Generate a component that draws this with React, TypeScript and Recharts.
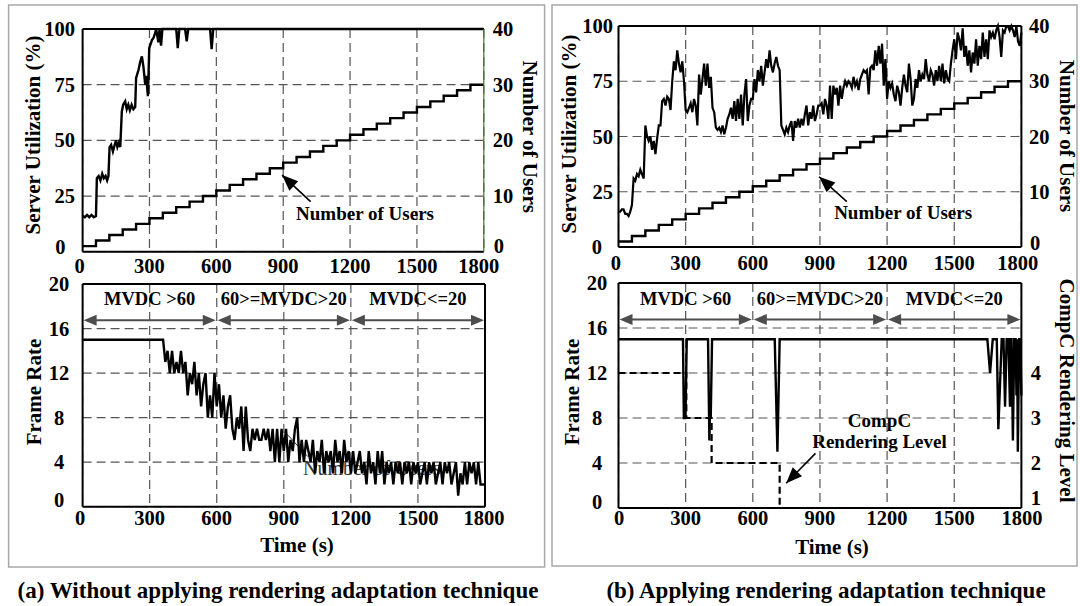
import React from "react";
import {
  LineChart,
  Line,
  XAxis,
  YAxis,
  CartesianGrid,
  ReferenceLine,
} from "recharts";

const SERIF = '"Liberation Serif", "Times New Roman", Times, serif';
const GRID = "#555555";
const ARROW_GRAY = "#4d4d4d";

// axis ticks
const timeTicks = [0, 300, 600, 900, 1200, 1500, 1800];
const utilTicks = [0, 25, 50, 75, 100];
const userTicks = [0, 10, 20, 30, 40];
const frameTicks = [0, 4, 8, 12, 16, 20];
const levelTicks = [1, 2, 3, 4];

// number of users (same in both runs)
const userTimes = [
  0, 60, 120, 180, 240, 300, 360, 420, 480, 540, 600, 660, 720, 780, 840, 900,
  960, 1020, 1080, 1140, 1200, 1260, 1320, 1380, 1440, 1500, 1560, 1620, 1680,
  1740, 1800,
];
const userCounts = [
  1, 2, 3, 4, 5, 6, 7, 8, 9, 10, 11, 12, 13, 14, 15, 16, 17, 18, 19, 20, 21, 22,
  23, 24, 25, 26, 27, 28, 29, 30, 30,
];

// (a) server utilization, saturates at 100 after ~330 s
const utilATimes = [
  0, 10, 20, 30, 40, 50, 60, 64, 72, 80, 88, 95, 103, 110, 116, 121, 128, 136,
  144, 150, 156, 163, 169, 176, 182, 191, 198, 205, 212, 220, 228, 236, 240, 251,
  258, 266, 273, 281, 285, 293, 299, 311, 318, 325, 330, 340, 345, 352, 358, 420,
  427, 434, 460, 467, 474, 572, 579, 586, 1800,
];
const utilAValues = [
  16, 15.5, 16.5, 15.5, 16.5, 15.5, 16, 33, 34, 32, 35, 33, 34, 32, 34, 47, 48,
  45, 48, 50, 47, 49, 47, 63, 66, 67.5, 64, 66, 63.5, 66, 64, 65, 78, 81.7, 85,
  87.7, 83, 75, 79, 69.8, 91.4, 95, 96, 98, 100, 94, 100, 92.5, 100, 100, 91.4,
  100, 100, 94.4, 100, 100, 91, 100, 100,
];

// (a) frame rate, sampled every 10 s
const FRAME_A_STEP = 10;
const frameAValues = [
  15, 15, 15, 15, 15, 15, 15, 15, 15, 15,
  15, 15, 15, 15, 15, 15, 15, 15, 15, 15,
  15, 15, 15, 15, 15, 15, 15, 15, 15, 15,
  15, 15, 15, 15, 15, 15, 15, 13, 14, 12,
  14, 12, 13, 12, 14, 12, 13, 10, 12, 11,
  13, 10, 12, 9, 11, 12, 8, 10, 8, 12,
  9, 11, 8, 10, 7, 9, 10, 7, 6, 8,
  7, 9, 5, 9, 6, 5, 7, 6, 7, 6,
  6, 7, 6, 7, 5, 7, 4, 7, 4, 7,
  5, 7, 4, 6, 5, 7, 8, 4, 6, 4,
  6, 5, 4, 6, 3, 5, 4, 6, 3, 5,
  4, 5, 3, 6, 4, 5, 3, 6, 4, 5,
  3, 5, 3, 4, 5, 3, 4, 2, 5, 3,
  4, 2, 5, 3, 5, 2, 4, 3, 4, 2,
  4, 3, 4, 2, 4, 3, 4, 2, 4, 3,
  4, 2, 3, 4, 2, 4, 3, 4, 2, 3,
  4, 2, 4, 3, 4, 2, 3, 4, 1, 3,
  2, 4, 2, 4, 3, 4, 2, 4, 2, 2,
  2,
];

// (b) server utilization, sampled every 7.5 s
const UTIL_B_STEP = 7.5;
const utilBValues = [
  16, 16, 17, 17, 15, 15, 14, 16, 19, 31,
  30, 33, 32, 35, 33, 31, 55, 50, 48, 50,
  44, 48, 42, 49, 55, 55, 66, 67, 64, 68,
  67, 62, 75, 84, 80, 89, 83, 79, 84, 75,
  62, 61, 63, 65, 61, 67, 64, 55, 78, 69,
  76, 83, 73, 83, 72, 77, 63, 61, 54, 53,
  54, 52, 55, 51, 54, 58, 60, 63, 58, 66,
  57, 67, 58, 69, 55, 69, 76, 57, 64, 67,
  67, 76, 70, 80, 75, 82, 73, 79, 85, 81,
  89, 82, 79, 83, 86, 82, 80, 55, 53, 51,
  54, 52, 55, 57, 48, 57, 54, 58, 54, 58,
  55, 60, 64, 55, 61, 58, 64, 57, 60, 64,
  64, 65, 60, 67, 64, 58, 73, 58, 73, 69,
  72, 64, 73, 67, 72, 75, 73, 75, 74, 72,
  77, 73, 75, 71, 76, 78, 80, 79, 80, 69,
  81, 82, 80, 89, 82, 91, 83, 92, 73, 85,
  67, 75, 72, 74, 69, 66, 73, 70, 64, 72,
  78, 73, 70, 83, 76, 64, 67, 76, 72, 80,
  75, 78, 76, 85, 78, 75, 80, 78, 73, 80,
  75, 82, 75, 83, 74, 80, 76, 75, 83, 89,
  94, 85, 97, 94, 89, 99, 86, 91, 82, 89,
  79, 88, 83, 94, 82, 91, 85, 97, 86, 94,
  85, 98, 95, 97, 94, 98, 100, 95, 86, 98,
  97, 100, 100, 98, 100, 98, 95, 100, 93, 91,
  97,
];

// (b) frame rate with adaptation
const frameBTimes = [
  0, 288, 292, 299, 305, 400, 406, 409, 412, 418, 698, 710, 720, 1648, 1660,
  1672, 1690, 1697, 1712, 1720, 1727, 1734, 1742, 1749, 1752, 1756, 1762, 1768,
  1774, 1778, 1781, 1784, 1790, 1795, 1800,
];
const frameBValues = [
  15, 15, 8, 8, 15, 15, 6, 9, 8, 15, 15, 5, 15, 15, 12, 15, 15, 7, 15, 15, 9,
  15, 15, 9, 15, 15, 6, 15, 15, 10, 15, 5, 15, 15, 10,
];

// (b) CompC rendering level
const levelTimes = [0, 303, 416, 720, 1800];
const levelValues = [4, 3, 2, 1, 1];

// MVDC regions
const regionBounds = [0, 600, 1200, 1800];
const regionLabels = ["MVDC >60", "60>=MVDC>20", "MVDC<=20"];

const series = (ts: number[], vs: number[]) => ts.map((t, i) => ({ t, v: vs[i] }));
const sampled = (vs: number[], step: number) => vs.map((v, i) => ({ t: i * step, v }));

const userData = series(userTimes, userCounts);
const utilAData = series(utilATimes, utilAValues);
const frameAData = sampled(frameAValues, FRAME_A_STEP);
const utilBData = sampled(utilBValues, UTIL_B_STEP);
const frameBData = series(frameBTimes, frameBValues);
const levelData = series(levelTimes, levelValues);

const yTick =
  (anchor: "start" | "middle" | "end", dx: number, low: number, lowDx: number, lowDy: number) =>
  (props: any) => {
    const { x, y, payload } = props;
    const isLow = payload.value === low;
    return (
      <text
        x={x + dx + (isLow ? lowDx : 0)}
        y={y + (isLow ? lowDy : 0)}
        textAnchor={anchor}
        dominantBaseline="central"
        fill="#000"
        fontFamily={SERIF}
        fontSize={20.5}
        fontWeight="bold"
      >
        {payload.value}
      </text>
    );
  };

const xTick = (dy: number, firstDx: number, lastDx: number) => (props: any) => {
  const { x, y, payload } = props;
  const shift = payload.value === 0 ? firstDx : payload.value === 1800 ? lastDx : 0;
  return (
    <text x={x + shift} y={y + dy} textAnchor="middle" dominantBaseline="central" fill="#000"
      fontFamily={SERIF} fontSize={20.5} fontWeight="bold">
      {payload.value}
    </text>
  );
};

function head(tx: number, ty: number, fx: number, fy: number, len: number, half: number) {
  const a = Math.atan2(ty - fy, tx - fx);
  const bx = tx - len * Math.cos(a);
  const by = ty - len * Math.sin(a);
  const px = -Math.sin(a) * half;
  const py = Math.cos(a) * half;
  return `${tx},${ty} ${bx + px},${by + py} ${bx - px},${by - py}`;
}

const spanArrow = (label: string) => (p: any) => {
  const a = Math.min(p.x1, p.x2) + 1;
  const b = Math.max(p.x1, p.x2) - 1;
  const y = p.y1;
  return (
    <g>
      <line x1={a + 8} y1={y} x2={b - 8} y2={y} stroke={ARROW_GRAY} strokeWidth={2} />
      <polygon points={head(a, y, b, y, 13, 5.5)} fill={ARROW_GRAY} />
      <polygon points={head(b, y, a, y, 13, 5.5)} fill={ARROW_GRAY} />
      <text x={(a + b) / 2} y={y - 21} textAnchor="middle" dominantBaseline="central" fill="#000"
        fontFamily={SERIF} fontSize={18.5} fontWeight="bold">
        {label}
      </text>
    </g>
  );
};

// segment goes tip -> tail, text placed relative to the tail
const pointer = (lines: string[], dx: number, dy: number) => (p: any) => (
  <g>
    <line x1={p.x2} y1={p.y2} x2={p.x1} y2={p.y1} stroke="#000" strokeWidth={1.6} />
    <polygon points={head(p.x1, p.y1, p.x2, p.y2, 16, 6.5)} fill="#000" />
    {lines.map((s, i) => (
      <text key={s} x={p.x2 + dx} y={p.y2 + dy + i * 21.7} textAnchor="middle" dominantBaseline="central" fill="#000"
        fontFamily={SERIF} fontSize={19} fontWeight="bold">
        {s}
      </text>
    ))}
  </g>
);

const strayNote = (p: any) => (
  <g>
    <line x1={p.x1} y1={p.y1} x2={p.x2} y2={p.y2} stroke="#333" strokeWidth={1} />
    <text x={p.x2 - 5} y={p.y2 + 18} fill="#333" fontFamily={SERIF} fontSize={20}>
      Number of Users
    </text>
  </g>
);

const regionArrows = () =>
  regionLabels.map((label, i) => (
    <ReferenceLine
      key={label}
      yAxisId="left"
      ifOverflow="visible"
      segment={[
        { x: regionBounds[i], y: 16.75 },
        { x: regionBounds[i + 1], y: 16.75 },
      ]}
      shape={spanArrow(label)}
    />
  ));

const frameEdge = "#000";

function TopLeft() {
  return (
    <LineChart width={544} height={290} margin={{ top: 29, right: 10.2, left: 22.6, bottom: 8.3 }}>
      <CartesianGrid yAxisId="left" stroke={GRID} strokeDasharray="9 5" strokeWidth={1.2} />
      <XAxis dataKey="t" type="number" domain={[0, 1800]} ticks={timeTicks} interval={0} height={30} tickSize={0} tickMargin={0}
        axisLine={{ stroke: frameEdge, strokeWidth: 2 }} tickLine={false} tick={xTick(13.8, -3, -5)} />
      <YAxis yAxisId="left" domain={[0, 100]} ticks={utilTicks} interval={0} width={60} tickSize={0} tickMargin={0}
        axisLine={{ stroke: frameEdge, strokeWidth: 2 }} tickLine={false} tick={yTick("end", -7.6, 0, -9.6, -5)} />
      <YAxis yAxisId="right" orientation="right" domain={[0, 40]} ticks={userTicks} interval={0} width={50} tickSize={0} tickMargin={0}
        axisLine={{ stroke: "#2e7d32", strokeWidth: 1.2 }} tickLine={false} tick={yTick("start", 9, 0, 1, -6)} />
      <ReferenceLine yAxisId="left" y={100} stroke={frameEdge} strokeWidth={2} />
      <Line data={userData} yAxisId="right" dataKey="v" type="stepAfter" stroke="#000" strokeWidth={2.4} dot={false} isAnimationActive={false} />
      <Line data={utilAData} yAxisId="left" dataKey="v" type="linear" stroke="#000" strokeWidth={2.4} dot={false} isAnimationActive={false} />
      <ReferenceLine yAxisId="left" ifOverflow="visible" segment={[{ x: 895, y: 34.4 }, { x: 1023, y: 22.45 }]}
        shape={pointer(["Number of Users"], 54.4, 11.3)} />
    </LineChart>
  );
}

function BottomLeft() {
  return (
    <LineChart width={544} height={290} margin={{ top: 14, right: 59, left: 22.6, bottom: 23.3 }}>
      <CartesianGrid yAxisId="left" stroke={GRID} strokeDasharray="9 5" strokeWidth={1.2} />
      <XAxis dataKey="t" type="number" domain={[0, 1800]} ticks={timeTicks} interval={0} height={30} tickSize={0} tickMargin={0}
        axisLine={{ stroke: frameEdge, strokeWidth: 2 }} tickLine={false} tick={xTick(10.8, -2.6, -1)} />
      <YAxis yAxisId="left" domain={[0, 20]} ticks={frameTicks} interval={0} width={60} tickSize={0} tickMargin={0}
        axisLine={{ stroke: frameEdge, strokeWidth: 2 }} tickLine={false} tick={yTick("middle", -23.6, 0, 0, -6.7)} />
      <ReferenceLine yAxisId="left" y={20} stroke={frameEdge} strokeWidth={2} />
      <ReferenceLine yAxisId="left" x={1800} stroke={frameEdge} strokeWidth={2} />
      <ReferenceLine yAxisId="left" ifOverflow="visible" segment={[{ x: 904, y: 6.74 }, { x: 1008, y: 4.49 }]} shape={strayNote} />
      <Line data={frameAData} yAxisId="left" dataKey="v" type="linear" stroke="#000" strokeWidth={2.4} dot={false} isAnimationActive={false} />
      {regionArrows()}
    </LineChart>
  );
}

function TopRight() {
  return (
    <LineChart width={532} height={290} margin={{ top: 26, right: 8.6, left: 10.5, bottom: 13 }}>
      <CartesianGrid yAxisId="left" stroke={GRID} strokeDasharray="9 5" strokeWidth={1.2} />
      <XAxis dataKey="t" type="number" domain={[0, 1800]} ticks={timeTicks} interval={0} height={30} tickSize={0} tickMargin={0}
        axisLine={{ stroke: frameEdge, strokeWidth: 2 }} tickLine={false} tick={xTick(15.5, -2.7, -3.6)} />
      <YAxis yAxisId="left" domain={[0, 100]} ticks={utilTicks} interval={0} width={60} tickSize={0} tickMargin={0}
        axisLine={{ stroke: frameEdge, strokeWidth: 2 }} tickLine={false} tick={yTick("end", -5.5, 0, -11, 0)} />
      <YAxis yAxisId="right" orientation="right" domain={[0, 40]} ticks={userTicks} interval={0} width={50} tickSize={0} tickMargin={0}
        axisLine={{ stroke: frameEdge, strokeWidth: 2 }} tickLine={false} tick={yTick("start", 7.6, 0, 1, -4)} />
      <ReferenceLine yAxisId="left" y={100} stroke={frameEdge} strokeWidth={2} />
      <Line data={userData} yAxisId="right" dataKey="v" type="stepAfter" stroke="#000" strokeWidth={2.4} dot={false} isAnimationActive={false} />
      <Line data={utilBData} yAxisId="left" dataKey="v" type="linear" stroke="#000" strokeWidth={2.2} dot={false} isAnimationActive={false} />
      <ReferenceLine yAxisId="left" ifOverflow="visible" segment={[{ x: 896, y: 31.8 }, { x: 1020, y: 20.5 }]}
        shape={pointer(["Number of Users"], 56.3, 11.3)} />
    </LineChart>
  );
}

function BottomRight() {
  return (
    <LineChart width={532} height={290} margin={{ top: 13, right: 8.6, left: 10.5, bottom: 22 }}>
      <CartesianGrid yAxisId="left" stroke={GRID} strokeDasharray="9 5" strokeWidth={1.2} />
      <XAxis dataKey="t" type="number" domain={[0, 1800]} ticks={timeTicks} interval={0} height={30} tickSize={0} tickMargin={0}
        axisLine={{ stroke: frameEdge, strokeWidth: 2 }} tickLine={false} tick={xTick(10.3, 0.5, 0.6)} />
      <YAxis yAxisId="left" domain={[0, 20]} ticks={frameTicks} interval={0} width={60} tickSize={0} tickMargin={0}
        axisLine={{ stroke: frameEdge, strokeWidth: 2 }} tickLine={false} tick={yTick("middle", -21.5, 0, 0, -6)} />
      <YAxis yAxisId="right" orientation="right" domain={[1, 6]} ticks={levelTicks} interval={0} width={50} tickSize={0} tickMargin={0}
        axisLine={{ stroke: frameEdge, strokeWidth: 2 }} tickLine={false} tick={yTick("start", 9.3, 1, 0, -10)} />
      <ReferenceLine yAxisId="left" y={20} stroke={frameEdge} strokeWidth={2} />
      <Line data={levelData} yAxisId="right" dataKey="v" type="stepAfter" stroke="#000" strokeWidth={2.2} strokeDasharray="7 4" dot={false} isAnimationActive={false} />
      <Line data={frameBData} yAxisId="left" dataKey="v" type="linear" stroke="#000" strokeWidth={2.4} dot={false} isAnimationActive={false} />
      {regionArrows()}
      <ReferenceLine yAxisId="left" ifOverflow="visible" segment={[{ x: 749, y: 2.2 }, { x: 880, y: 4.86 }]}
        shape={pointer(["CompC", "Rendering Level"], 64, -33.3)} />
    </LineChart>
  );
}

const place = (left: number, top: number): React.CSSProperties => ({ position: "absolute", left, top });

const Title = ({ x, y, rot, children }: { x: number; y: number; rot: number; children: string }) => (
  <text transform={`translate(${x},${y}) rotate(${rot})`} textAnchor="middle" dominantBaseline="central"
    fill="#000" fontFamily={SERIF} fontSize={21} fontWeight="bold">
    {children}
  </text>
);

export default function App() {
  return (
    <div style={{ position: "absolute", left: 0, top: 0, width: 1080, height: 606, background: "#fff", overflow: "hidden" }}>
      <svg width={1080} height={606} style={{ position: "absolute", left: 0, top: 0 }}>
        <rect x={8.6} y={5} width={536} height={562} fill="none" stroke="#a8a8a8" strokeWidth={1.5} />
        <rect x={552} y={5} width={525} height={561} fill="none" stroke="#a8a8a8" strokeWidth={1.5} />
      </svg>
      <div style={place(0, 0)}><TopLeft /></div>
      <div style={place(0, 270)}><BottomLeft /></div>
      <div style={place(548, 0)}><TopRight /></div>
      <div style={place(548, 270)}><BottomRight /></div>
      <svg width={1080} height={606} style={{ position: "absolute", left: 0, top: 0, pointerEvents: "none" }}>
        <Title x={32.7} y={135} rot={-90}>Server Utilization (%)</Title>
        <Title x={530} y={136.7} rot={90}>Number of Users</Title>
        <Title x={33.6} y={392} rot={-90}>Frame Rate</Title>
        <Title x={297} y={545} rot={0}>Time (s)</Title>
        <Title x={568.5} y={134} rot={-90}>Server Utilization (%)</Title>
        <Title x={1066.5} y={136} rot={90}>Number of Users</Title>
        <Title x={571.8} y={392} rot={-90}>Frame Rate</Title>
        <Title x={1066.5} y={390.5} rot={90}>CompC Rendering Level</Title>
        <Title x={832} y={546.7} rot={0}>Time (s)</Title>
        <g fill="#000" fontFamily={SERIF} fontSize={23} fontWeight="bold">
          <text x={278} y={598} textAnchor="middle">(a) Without applying rendering adaptation technique</text>
          <text x={826} y={598} textAnchor="middle">(b) Applying rendering adaptation technique</text>
        </g>
      </svg>
    </div>
  );
}
